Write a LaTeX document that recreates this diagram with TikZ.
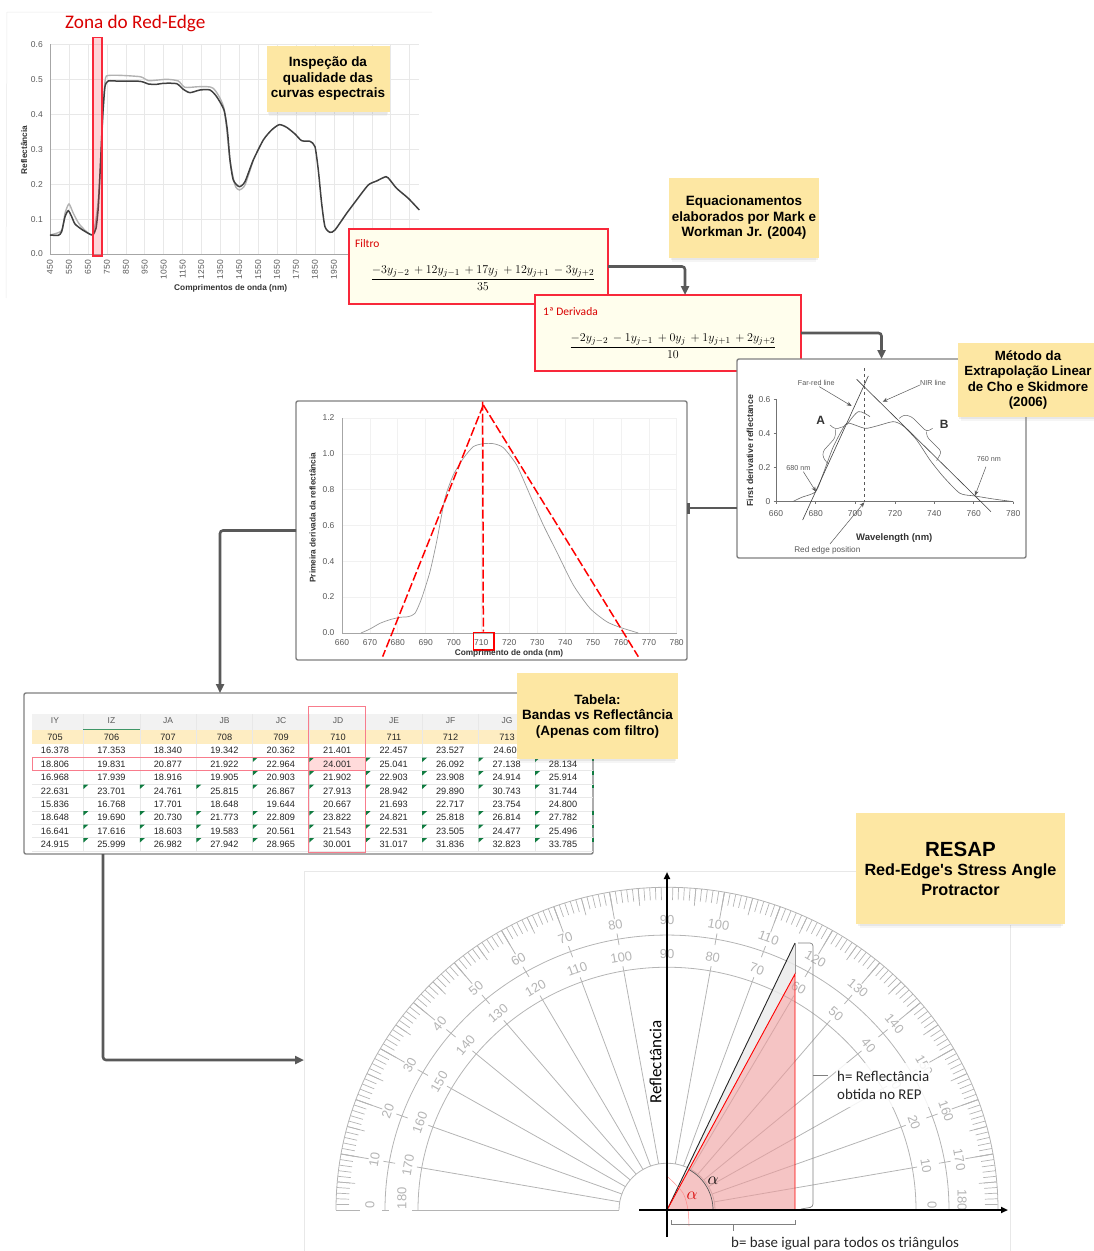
\documentclass[tikz,border=0pt]{standalone}
\usepackage{fontspec}
\usetikzlibrary{arrows.meta,shadows}
\newfontfamily\arialfont{Liberation Sans}
\newfontfamily\calibrifont{Carlito}
\definecolor{stickyyellow}{HTML}{FDE7A3}
\definecolor{connectorgray}{HTML}{595959}
\definecolor{redline}{HTML}{F8283A}
\definecolor{palered}{HTML}{F87C8C}
\definecolor{trianglefill}{HTML}{EE9C9C}
\definecolor{protgray}{HTML}{B4B4B4}
\definecolor{gridgray}{HTML}{E8E8E8}
\definecolor{labelgray}{HTML}{595959}
\definecolor{cellgreen}{HTML}{107C41}
\tikzset{
  sticky/.style={fill=stickyyellow,align=center,inner sep=0pt,outer sep=0pt,text=black,
    font=\arialfont\bfseries\fontsize{13.5}{15.5}\selectfont,
    drop shadow={shadow xshift=0pt,shadow yshift=-6pt,shadow scale=.96,opacity=.08},
    drop shadow={shadow xshift=0pt,shadow yshift=-3pt,shadow scale=.98,opacity=.12}},
  panel/.style={draw=gray,fill=white,line width=1.4pt,rounded corners=2pt,inner sep=0pt,outer sep=0pt},
  formula/.style={draw=redline,fill=yellow!7,line width=1.2pt,inner sep=0pt,outer sep=0pt},
  connector/.style={draw=connectorgray,line width=2.6pt,rounded corners=3pt,-{Triangle[length=9pt,width=8pt]}},
  ticktext/.style={text=labelgray,inner sep=0pt,font=\arialfont\fontsize{8.5}{10}\selectfont},
  axistext/.style={text=black!80,inner sep=0pt,font=\arialfont\bfseries\fontsize{8.3}{10}\selectfont},
  smalltext/.style={text=labelgray,inner sep=0pt,font=\arialfont\fontsize{7.2}{9}\selectfont},
  cell/.style={text=black!85,inner sep=0pt,font=\arialfont\fontsize{9.2}{11}\selectfont},
  prottext/.style={text=protgray,inner sep=0pt,font=\arialfont\fontsize{13}{15}\selectfont},
  calibri/.style={inner sep=0pt,font=\calibrifont\fontsize{14.9}{18}\selectfont},
  thinarrow/.style={draw=labelgray,line width=.5pt,-{Stealth[length=5pt,width=4pt]}},
  reddash/.style={draw=red,line width=1.5pt,dash pattern=on 9pt off 3pt}
}
\begin{document}
\begin{tikzpicture}[x=1pt,y=-1pt]
\useasboundingbox (0,0) rectangle (1093,1251);

% espectro
\draw[gridgray,line width=.5pt] (432,12) -- (7,12) -- (6,298);
\begin{scope}[x=.3333pt,y=-.3333pt]
\foreach \yy in {133,238,343,448,553,658} \draw[gridgray] (150,\yy) -- (1258,\yy);
\foreach \xx in {150,207,264,321,378,434,491,548,604,661,718,775,831,888,945,1002,1059,1116,1172,1229} \draw[gridgray] (\xx,133) -- (\xx,762);
\draw[black!35,line width=.6pt] (150,133) -- (150,762) -- (1258,762);
\foreach \yy/\lab in {133/0.6,238/0.5,343/0.4,448/0.3,553/0.2,658/0.1,762/0.0}
  \node[ticktext,anchor=east] (y\lab) at (129,\yy) {\lab};
\foreach \xx/\lab in {150/450,207/550,264/650,321/750,378/850,434/950,491/1050,548/1150,604/1250,661/1350,718/1450,775/1550,831/1650,888/1750,945/1850,1002/1950}
  \node[ticktext,anchor=east,rotate=90] (x\lab) at (\xx,780) {\lab};
\draw[black!30,line width=1.4pt] plot[smooth,tension=.4] coordinates {(150,705) (185,692) (195,640) (207,612) (220,640) (240,675) (278,703) (295,600) (305,420) (315,245) (330,226) (420,230) (445,242) (500,238) (535,243) (555,262) (600,260) (640,265) (672,325) (690,480) (705,555) (718,570) (735,555) (760,480)};
\draw[black!75,line width=1.5pt] plot[smooth,tension=.4] coordinates {(150,705) (175,706) (185,695) (195,650) (205,632) (215,650) (225,672) (245,688) (265,700) (278,705) (288,685) (295,620) (302,480) (308,350) (315,260) (325,243) (345,243) (420,244) (445,252) (470,253) (490,250) (530,251) (550,268) (570,278) (600,270) (630,270) (650,290) (672,330) (682,390) (690,480) (700,540) (718,560) (735,545) (760,480) (790,420) (815,390) (838,374) (860,382) (885,402) (905,422) (930,424) (945,440) (955,510) (965,610) (975,680) (990,697) (1005,690) (1040,640) (1070,600) (1105,555) (1130,543) (1158,530) (1170,540) (1190,565) (1225,595) (1258,630)};
\end{scope}
\node[axistext,rotate=90] (reflabel) at (24,150) {Reflectância};
\node[axistext] (wavelabel) at (230.7,288) {Comprimentos de onda (nm)};
\draw[redline,fill=redline,fill opacity=.2,line width=1.3pt] (93,37.5) rectangle (102,256);
\node[calibri,text=red!85!black,anchor=west,font=\calibrifont\fontsize{19.2}{21}\selectfont] (zona) at (65,23.5) {Zona do Red-Edge};
\node[sticky,minimum width=123pt,minimum height=66pt] (inspecao) at (328,79) {Inspeção da\\qualidade das\\curvas espectrais};

% equacoes
\node[formula,minimum width=259pt,minimum height=75pt] (filtro) at (478.5,266.5) {};
\node[calibri,text=red!85!black,anchor=west,font=\calibrifont\fontsize{11.5}{13}\selectfont] (filtrolabel) at (355,243.5) {Filtro};
\node[inner sep=0pt,font=\fontsize{12.3}{14}\selectfont] (filtroeq) at (483,278) {$\displaystyle\frac{-3y_{j-2}\,+12y_{j-1}\,+17y_j\,+12y_{j+1}\,-3y_{j+2}}{35}$};
\node[formula,minimum width=266pt,minimum height=76pt] (deriv) at (668,333) {};
\node[calibri,text=red!85!black,anchor=west,font=\calibrifont\fontsize{11.5}{13}\selectfont] (derivlabel) at (543,312) {1ª Derivada};
\node[inner sep=0pt,font=\fontsize{12.3}{14}\selectfont] (deriveq) at (673,346) {$\displaystyle\frac{-2y_{j-2}\,-1y_{j-1}\,+0y_j\,+1y_{j+1}\,+2y_{j+2}}{10}$};
\node[sticky,minimum width=150pt,minimum height=80pt] (equacoes) at (744,218) {Equacionamentos\\elaborados por Mark e\\Workman Jr. (2004)};
\draw[connector] (filtro.east) -| ([xshift=17pt]deriv.north);

% Cho e Skidmore
\node[panel,minimum width=289pt,minimum height=199pt] (chobox) at (881.5,458.5) {};
\draw[connector] (deriv.east) -| (chobox.north);
\begin{scope}[shift={(730,340)},x=.3333pt,y=-.3333pt]
\draw[black!55,line width=.6pt] (138,178) -- (138,485) -- (850,485);
\foreach \yy/\lab in {178/0.6,281/0.4,383/0.2,485/0}{
  \draw[black!55,line width=.5pt] (131,\yy) -- (138,\yy);
  \node[ticktext,anchor=east] (cy\lab) at (122,\yy) {\lab};}
\foreach \xx/\lab in {138/660,257/680,375/700,495/720,613/740,731/760,850/780}{
  \draw[black!55,line width=.5pt] (\xx,485) -- (\xx,491);
  \node[ticktext] (cx\lab) at (\xx,520) {\lab};}
\draw[black!60,line width=.6pt] plot[smooth,tension=.4] coordinates {(188,485) (215,472) (257,455) (280,400) (310,320) (345,255) (360,250) (405,265) (440,258) (490,245) (520,258) (560,300) (600,360) (640,410) (690,460) (735,468) (790,477) (850,485)};
\draw[black!60,line width=.6pt] plot[smooth,tension=.5] coordinates {(350,255) (385,215) (420,230)};
\draw[black!75,line width=.6pt] (218,540) -- (415,108);
\draw[black!75,line width=.6pt] (380,118) -- (783,515);
\draw[black!65,line width=.6pt,dashed] (403,85) -- (403,485);
\draw[thinarrow] (268,140) -- (365,198);
\draw[thinarrow] (570,135) -- (458,185);
\draw[thinarrow] (220,395) -- (258,455);
\draw[thinarrow] (768,380) -- (735,467);
\draw[thinarrow] (300,612) -- (403,487);
\draw[black!60,line width=.5pt,rounded corners=3pt] (300,255) -- (316,268) -- (345,258);
\draw[black!60,line width=.5pt,rounded corners=3pt] (316,268) -- (316,293) -- (278,335) -- (280,355) -- (295,372);
\draw[black!60,line width=.5pt,rounded corners=3pt] (508,235) -- (522,224) -- (545,230) -- (590,275) -- (608,265);
\draw[black!60,line width=.5pt,rounded corners=3pt] (590,275) -- (590,290) -- (635,335) -- (620,362);
\node[smalltext] (farred) at (259,130) {Far-red line};
\node[smalltext] (nir) at (609,130) {NIR line};
\node[smalltext] (nm680) at (205,384) {680 nm};
\node[smalltext] (nm760) at (777,358) {760 nm};
\node[smalltext,font=\arialfont\fontsize{8.2}{10}\selectfont] (redge) at (292,630) {Red edge position};
\node[axistext,font=\arialfont\bfseries\fontsize{12}{14}\selectfont] (brA) at (272,240) {A};
\node[axistext,font=\arialfont\bfseries\fontsize{12}{14}\selectfont] (brB) at (643,253) {B};
\node[axistext,rotate=90,font=\arialfont\bfseries\fontsize{8.8}{10}\selectfont] (choy) at (60,332) {First derivative reflectance};
\node[axistext,font=\arialfont\bfseries\fontsize{9.5}{11}\selectfont] (chox) at (493,595) {Wavelength (nm)};
\end{scope}
\node[sticky,minimum width=140pt,minimum height=74pt,font=\arialfont\bfseries\fontsize{13.3}{15.5}\selectfont] (metodo) at (1028,380) {Método da\\Extrapolação Linear\\de Cho e Skidmore\\(2006)};

% primeira derivada
\node[panel,minimum width=391pt,minimum height=259pt] (chart) at (491.5,530.5) {};
\draw[draw=connectorgray,line width=2.6pt,-{Bar[width=11pt,line width=2.5pt]}] ([yshift=-49.5pt]chobox.west) -- ([yshift=22.5pt]chart.east);
\begin{scope}[shift={(290,395)},x=.3333pt,y=-.3333pt]
\foreach \yy in {69,177,284,392,499,606} \draw[gridgray!60] (156,\yy) -- (1160,\yy);
\foreach \xx in {240,323,407,491,574,658,742,826,909,993,1077,1160} \draw[gridgray!60] (\xx,69) -- (\xx,714);
\draw[black!35,line width=.6pt] (156,69) -- (156,714) -- (1160,714);
\foreach \yy/\lab in {69/1.2,177/1.0,284/0.8,392/0.6,499/0.4,606/0.2,714/0.0}
  \node[ticktext,anchor=east] (dy\lab) at (134,\yy) {\lab};
\foreach \xx/\lab in {156/660,240/670,323/680,407/690,491/700,574/710,658/720,742/730,826/740,909/750,993/760,1077/770,1160/780}
  \node[ticktext] (dx\lab) at (\xx,742) {\lab};
\draw[black!40,line width=.7pt] plot[smooth,tension=.4] coordinates {(213,714) (240,702) (270,685) (300,674) (330,667) (355,665) (375,655) (395,610) (420,530) (440,440) (465,310) (490,240) (520,190) (550,155) (580,146) (610,146) (640,158) (680,210) (720,300) (760,390) (800,470) (850,570) (900,640) (950,680) (990,697) (1045,714)};
\draw[reddash] (580,30) -- (278,785);
\draw[reddash] (580,30) -- (1045,785);
\draw[reddash] (578,20) -- (580,710);
\draw[red,line width=1.6pt] (550,712) rectangle (612,765);
\node[axistext,rotate=90] (dery) at (68,368) {Primeira derivada da reflectância};
\node[axistext] (derx) at (657,776) {Comprimento de onda (nm)};
\end{scope}

% tabela
\node[panel,minimum width=569pt,minimum height=161pt] (tablebox) at (308.5,773.5) {};
\draw[connector] (chart.west) -| ([xshift=-88.5pt]tablebox.north);
\fill[black!5] (32,714) rectangle (593,730);
\fill[yellow!45!orange!22] (32,730) rectangle (593,743.5);
\foreach \xx in {83,140,196,252,309,365,422,478,535} \draw[gridgray,line width=.5pt] (\xx,714) -- (\xx,851);
\foreach \yy in {757,770.5,784,797.5,811,824,837.5,851} \draw[gridgray,line width=.5pt] (32,\yy) -- (593,\yy);
\draw[cellgreen!80,line width=.9pt] (83,729.5) -- (140,729.5);
\fill[red,opacity=.14] (308,757) rectangle (365,770.5);
\foreach \xx/\lab/\band [count=\c] in {55/IY/705,111.5/IZ/706,168/JA/707,224.5/JB/708,281/JC/709,338/JD/710,394/JE/711,450.5/JF/712,507/JG/713}{
  \node[ticktext,font=\arialfont\fontsize{8.5}{10}\selectfont] (head\c) at (\xx,721) {\lab};
  \node[cell] (band\c) at (\xx,737) {\band};}
\foreach \yy/\first/\vals [count=\r] in {
  750.5/99/{16.378,17.353,18.340,19.342,20.362,21.401,22.457,23.527},
  764/4/{18.806,19.831,20.877,21.922,22.964,24.001,25.041,26.092,27.138,28.134},
  777.5/4/{16.968,17.939,18.916,19.905,20.903,21.902,22.903,23.908,24.914,25.914},
  791/1/{22.631,23.701,24.761,25.815,26.867,27.913,28.942,29.890,30.743,31.744},
  804/99/{15.836,16.768,17.701,18.648,19.644,20.667,21.693,22.717,23.754,24.800},
  817.5/1/{18.648,19.690,20.730,21.773,22.809,23.822,24.821,25.818,26.814,27.782},
  831/1/{16.641,17.616,18.603,19.583,20.561,21.543,22.531,23.505,24.477,25.496},
  844.5/1/{24.915,25.999,26.982,27.942,28.965,30.001,31.017,31.836,32.823,33.785}}{
  \foreach \v [count=\c from 0] in \vals{
    \pgfmathsetmacro\cx{55+56.45*\c}
    \node[cell] (cell\r-\c) at (\cx,\yy) {\v};
    \ifnum\c<\first\else
      \fill[cellgreen] (\cx-28,\yy-6.5) -- ++(5,0) -- ++(-5,4.5) -- cycle;
    \fi}
  \ifnum\first<99 \fill[cellgreen] (592,\yy-6.5) rectangle (593.5,\yy-3); \fi
}
\node[cell,anchor=west] (cell1-8) at (493.5,750.5) {24.60};
\draw[palered,line width=.8pt] (32,757) rectangle (365,770.5);
\draw[palered,line width=.8pt] (308,706) rectangle (365,852);
\node[sticky,minimum width=161pt,minimum height=86pt] (tabela) at (597.5,716) {Tabela:\\Bandas vs Reflectância\\(Apenas com filtro)};

% transferidor
\coordinate (protin) at (304,1060);
\draw[gridgray,line width=.6pt] (1010,925) -- (1010,1251);
\draw[gridgray,line width=.6pt] (856,871) -- (304,871) -- (304,1251);
\draw[connector] ([xshift=-205.5pt]tablebox.south) |- (protin);
\begin{scope}[shift={(667,1210)},x=1pt,y=.975pt,draw=protgray,line width=.8pt]
\foreach \rr in {331,282,249,48}
  \draw (\rr,0) arc[start angle=0,end angle=180,x radius=\rr pt,y radius=\rr*.975 pt];
\foreach \a in {1,...,179} \draw[line width=.7pt] (\a:331) -- (\a:318);
\foreach \a in {5,10,...,175} \draw[line width=.7pt] (\a:331) -- (\a:313);
\foreach \a in {10,20,...,170}{
  \draw (\a:331) -- (\a:303);
  \draw (\a:276) -- (\a:288);
  \draw (\a:48) -- (\a:254);}
\draw (-331,0) -- (-307,0) (-285,0) -- (-278,0) (-255,0) -- (-48,0);
\draw (331,0) -- (307,0) (285,0) -- (278,0) (255,0) -- (48,0);
\foreach \v [evaluate=\v as \a using 180-\v] in {10,20,...,170}
  \node[prottext,rotate=\a-90] (outer\v) at (\a:297) {\v};
\foreach \v in {10,20,...,170}
  \node[prottext,rotate=\v-90] (inner\v) at (\v:263) {\v};
\node[prottext,rotate=90] (outer0) at (-297,5) {0};
\node[prottext,rotate=90] (inner180) at (-265,12) {180};
\node[prottext,rotate=-90] (inner0) at (265,5) {0};
\node[prottext,rotate=-90] (outer180) at (295,10) {180};
\end{scope}
\fill[black!8,opacity=.85] (667,1210) -- (795,943) -- (795,974) -- cycle;
\fill[trianglefill,opacity=.6] (667,1210) -- (795,974) -- (795,1210) -- cycle;
\draw[black!85,line width=.9pt] (667,1210) -- (795,943);
\draw[black!40,line width=.6pt] (795,943) -- (795,974);
\draw[red,line width=.9pt] (795,1210) -- (667,1210) -- (795,974) -- cycle;
\draw[black!65,line width=.7pt] (713,1210) arc[start angle=0,end angle=62,radius=46pt];
\draw[red!45,line width=.5pt] plot[smooth,tension=.5] coordinates {(689,1226) (688,1210) (683,1193) (668,1177)};
\draw[black!50,line width=.7pt,rounded corners=3pt] (798,943) -- (813,943) -- (813,1207) -- (801,1209);
\draw[black!50,line width=.7pt] (813,1075) -- (828,1075);
\draw[black!50,line width=.7pt] (671,1220) -- (671,1224) -- (795,1224) -- (795,1220);
\draw[black!50,line width=.7pt] (733,1224) -- (733,1231);
\draw[black,line width=2pt,-{Triangle[length=7pt,width=6pt]}] (639,1210) -- (1008,1210);
\draw[black,line width=2pt,-{Triangle[length=7pt,width=6pt]}] (667,1237) -- (667,872);
\node[calibri,rotate=90,text=black,font=\calibrifont\fontsize{17}{20}\selectfont] (reflectancia) at (655.5,1062) {Reflectância};
\node[calibri,text=red!85!black,font=\fontsize{17}{20}\selectfont] (alphared) at (692,1196) {$\alpha$};
\node[calibri,text=black,font=\fontsize{17}{20}\selectfont] (alphablack) at (713,1181) {$\alpha$};
\node[calibri,text=black!85,align=left,anchor=west,inner xsep=1pt,inner ysep=8pt,fill=white,fill opacity=.85,text opacity=1] (halt) at (836,1085) {h= Reflectância\\obtida no REP};
\node[calibri,text=black!85,anchor=west] (base) at (731,1244) {b= base igual para todos os triângulos};
\node[sticky,minimum width=209pt,minimum height=111pt,font=\arialfont\bfseries\fontsize{16.2}{19.5}\selectfont] (resap) at (960.5,868.5) {{\fontsize{20.5}{24}\selectfont RESAP}\\Red-Edge's Stress Angle\\Protractor};
\end{tikzpicture}
\end{document}
